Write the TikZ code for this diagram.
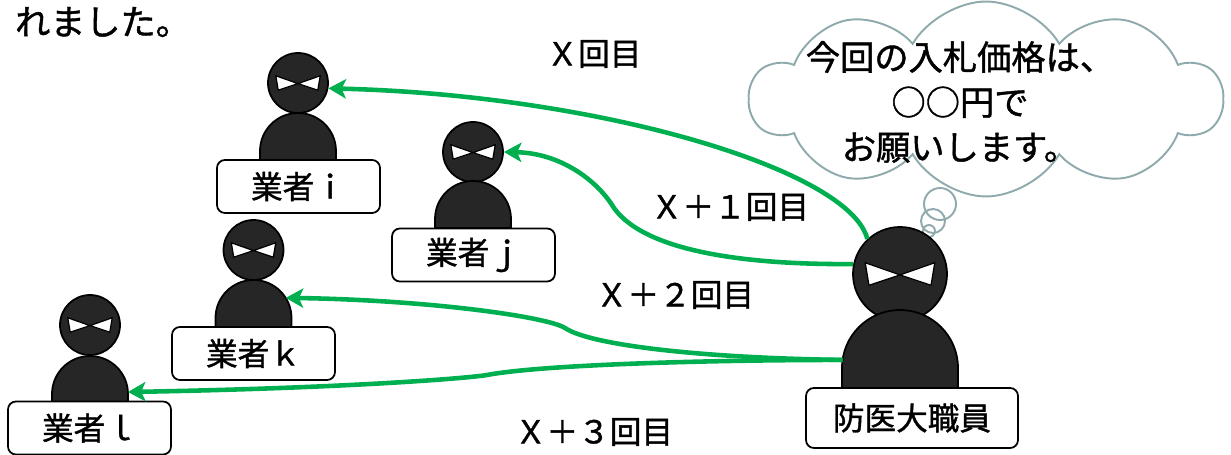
\documentclass[tikz,border=0pt]{standalone}
\usepackage{fontspec}
\setmainfont{Noto Sans CJK JP}[FakeBold=1.2]
\usepackage{xcolor}
\usetikzlibrary{shapes.symbols,arrows.meta}

\definecolor{bidgreen}{HTML}{00B050}
\definecolor{cloudgrey}{HTML}{8FAAAC}

\tikzset{
    ink/.style={fill=black!85, draw=black, line width=1pt},
    namebox/.style={rectangle, rounded corners=4.5pt, draw, line width=1pt, fill=white,
        minimum width=3.26cm, minimum height=1.06cm, inner sep=0pt,
        font=\fontsize{18}{20}\selectfont},
    round/.style={inner sep=0pt, font=\fontsize{18}{20}\selectfont},
    bid/.style={draw=bidgreen, line width=2.6pt, -{Stealth[length=10pt,width=11pt,inset=2.5pt]}},
    puff/.style={circle, draw=cloudgrey, line width=1.1pt, inner sep=0pt},
    % #1 body half width, #2 straight side, #3 head radius, #4 head height
    pics/ninja/.style n args={4}{code={
        \node[circle, ink, inner sep=0pt, minimum size={2*#3*0.02cm}] (-head) at (0,-#4) {};
        \filldraw[fill=white, draw=black, line width=.7pt]
            ({-0.74*#3},{-#4-0.24*#3}) -- (0,{-#4+0.02*#3}) -- ({0.74*#3},{-#4-0.24*#3})
            -- ({0.66*#3},{-#4+0.24*#3}) -- (0,{-#4+0.02*#3}) -- ({-0.66*#3},{-#4+0.24*#3}) -- cycle;
        \filldraw[ink] (-#1,0) -- (-#1,-#2) arc[start angle=180, end angle=0, radius={#1*0.02cm}]
            -- (#1,0) -- cycle;
        \coordinate (-hi) at ({#1*cos(32)},{-#2-#1*sin(32)});
        \coordinate (-lo) at ({#1*cos(3)},{-#2-#1*sin(3)});
        \coordinate (-out) at ({-#1*cos(8)},{-#2-#1*sin(8)});
    }}
}

\begin{document}
\begin{tikzpicture}[x=0.02cm, y=-0.02cm]
    \useasboundingbox (0,0) rectangle (1231,455);

    \node[inner sep=0pt, font=\fontsize{20}{22}\selectfont] (tail) at (103,22) {れました。};

    % thought cloud
    \node[cloud, cloud puffs=10, cloud puff arc=120, aspect=2.5, draw=cloudgrey, line width=1.1pt,
        fill=white, minimum width=9.44cm, minimum height=3.9cm] (cloud) at (986,99) {};
    \node[align=center, inner sep=0pt, font=\fontsize{19.5}{25.6}\selectfont] (thought) at (960,102)
        {今回の入札価格は、\\○○円で\\お願いします。};
    \node[puff, minimum size=0.64cm] (b1) at (940,204) {};
    \node[puff, minimum size=0.48cm] (b2) at (933,221) {};
    \node[puff, minimum size=0.24cm] (b3) at (929,231) {};

    % bidders
    \pic (ni) at (298,160) {ninja={38}{9}{30}{77}};
    \pic (nj) at (473,228) {ninja={38}{9}{30}{76}};
    \pic (nk) at (253.5,327) {ninja={38}{9}{30}{77}};
    \pic (nl) at (90,403) {ninja={38}{9}{30}{78}};
    \pic (nb) at (900,388) {ninja={58}{20}{47}{114}};

    \node[namebox] (li) at (298.5,186.5) {業者ｉ};
    \node[namebox] (lj) at (473.5,255) {業者ｊ};
    \node[namebox] (lk) at (253.5,353.5) {業者ｋ};
    \node[namebox] (ll) at (89.5,428) {業者ｌ};
    \node[namebox, minimum width=4.24cm, minimum height=1.2cm] (lb) at (912,418) {防医大職員};

    % rounds
    \draw[bid] (nb-head.133) .. controls (850,170) and (600,95) .. (ni-head.-10);
    \draw[bid] (nb-head.168) .. controls (740,265) and (640,250) .. (612,205)
        .. controls (596,180) and (560,153) .. (nj-head.east);
    \draw[bid] (nb-out) .. controls (700,358) and (590,345) .. (565,328)
        .. controls (548,317) and (430,300) .. (nk-hi);
    \draw[bid] (nb-out) .. controls (700,360) and (540,365) .. (487,375)
        .. controls (470,378) and (350,388) .. (nl-lo);

    \node[round] (r0) at (594,54) {Ｘ回目};
    \node[round] (r1) at (730,207) {Ｘ＋１回目};
    \node[round] (r2) at (675,295) {Ｘ＋２回目};
    \node[round] (r3) at (594,432) {Ｘ＋３回目};
\end{tikzpicture}
\end{document}
